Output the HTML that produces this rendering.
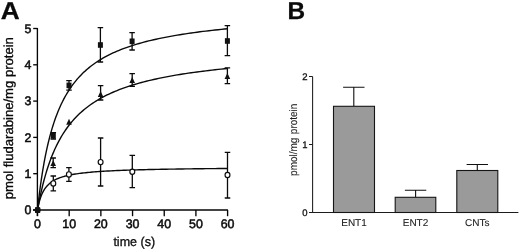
<!DOCTYPE html>
<html><head><meta charset="utf-8"><title>Figure</title>
<style>html,body{margin:0;padding:0;background:#fff;overflow:hidden;}svg{display:block;will-change:transform;filter:blur(0.35px);}text{text-rendering:geometricPrecision;font-family:"Liberation Sans",sans-serif;fill:#0a0a0a;stroke:#0a0a0a;stroke-width:0.3px;}text.t{stroke-width:0.5px;}text.b2{fill:#111;stroke:#111;stroke-width:0.3px;}text.b{fill:#1c1c1c;stroke:#1c1c1c;stroke-width:0.1px;}</style>
</head><body>
<svg width="520" height="250" viewBox="0 0 520 250">
<rect width="520" height="250" fill="#fff"/>
<text transform="translate(0.7,19) scale(1.075,1)" font-size="24.4" font-weight="bold">A</text>
<g stroke="#050505" stroke-width="1.35" fill="none">
<path d="M37.4,28 V216"/>
<path d="M33,210 H227.9"/>
<path d="M33.2,210.00 H37.4"/>
<path d="M33.2,173.70 H37.4"/>
<path d="M33.2,137.40 H37.4"/>
<path d="M33.2,101.10 H37.4"/>
<path d="M33.2,64.80 H37.4"/>
<path d="M33.2,28.50 H37.4"/>
<path d="M37.50,210 V216.2"/>
<path d="M69.18,210 V216.2"/>
<path d="M100.87,210 V216.2"/>
<path d="M132.55,210 V216.2"/>
<path d="M164.23,210 V216.2"/>
<path d="M195.91,210 V216.2"/>
<path d="M227.60,210 V216.2"/>
</g>
<text x="31.3" y="214.30" font-size="12.4" text-anchor="end" class="t">0</text>
<text x="31.3" y="178.00" font-size="12.4" text-anchor="end" class="t">1</text>
<text x="31.3" y="141.70" font-size="12.4" text-anchor="end" class="t">2</text>
<text x="31.3" y="105.40" font-size="12.4" text-anchor="end" class="t">3</text>
<text x="31.3" y="69.10" font-size="12.4" text-anchor="end" class="t">4</text>
<text x="31.3" y="32.80" font-size="12.4" text-anchor="end" class="t">5</text>
<text x="37.50" y="228.4" font-size="12.4" text-anchor="middle" class="t">0</text>
<text x="69.18" y="228.4" font-size="12.4" text-anchor="middle" class="t">10</text>
<text x="100.87" y="228.4" font-size="12.4" text-anchor="middle" class="t">20</text>
<text x="132.55" y="228.4" font-size="12.4" text-anchor="middle" class="t">30</text>
<text x="164.23" y="228.4" font-size="12.4" text-anchor="middle" class="t">40</text>
<text x="195.91" y="228.4" font-size="12.4" text-anchor="middle" class="t">50</text>
<text x="227.60" y="228.4" font-size="12.4" text-anchor="middle" class="t">60</text>
<text x="113.4" y="246" font-size="12.9" textLength="41.7" lengthAdjust="spacingAndGlyphs">time (s)</text>
<text transform="translate(12.9,199.3) rotate(-90)" font-size="13.1" textLength="162.2" lengthAdjust="spacingAndGlyphs">pmol fludarabine/mg protein</text>
<g stroke="#0a0a0a" stroke-width="1.4" fill="none" stroke-linejoin="round">
<path d="M37.50,210.00 L37.51,209.87 L37.55,209.50 L37.62,208.87 L37.71,208.01 L37.84,206.90 L37.98,205.57 L38.16,204.02 L38.36,202.26 L38.59,200.30 L38.84,198.16 L39.12,195.85 L39.43,193.38 L39.77,190.77 L40.13,188.03 L40.52,185.18 L40.94,182.24 L41.38,179.20 L41.85,176.10 L42.35,172.94 L42.87,169.73 L43.42,166.50 L44.00,163.24 L44.60,159.97 L45.23,156.70 L45.89,153.43 L46.57,150.18 L47.29,146.96 L48.02,143.76 L48.79,140.60 L49.58,137.48 L50.40,134.41 L51.25,131.39 L52.12,128.41 L53.02,125.49 L53.94,122.63 L54.90,119.83 L55.88,117.09 L56.88,114.41 L57.92,111.79 L58.98,109.24 L60.07,106.75 L61.18,104.32 L62.32,101.95 L63.49,99.65 L64.68,97.41 L65.91,95.22 L67.15,93.10 L68.43,91.04 L69.73,89.03 L71.06,87.08 L72.42,85.19 L73.80,83.35 L75.21,81.56 L76.64,79.82 L78.11,78.13 L79.60,76.50 L81.11,74.91 L82.66,73.36 L84.23,71.86 L85.83,70.40 L87.45,68.99 L89.10,67.62 L90.78,66.28 L92.48,64.99 L94.22,63.73 L95.98,62.51 L97.76,61.33 L99.57,60.17 L101.41,59.05 L103.28,57.97 L105.17,56.91 L107.09,55.88 L109.04,54.89 L111.01,53.92 L113.01,52.97 L115.04,52.06 L117.09,51.17 L119.17,50.30 L121.28,49.46 L123.41,48.64 L125.58,47.84 L127.76,47.06 L129.98,46.31 L132.22,45.57 L134.49,44.86 L136.78,44.16 L139.11,43.48 L141.46,42.82 L143.83,42.18 L146.23,41.55 L148.66,40.94 L151.12,40.34 L153.60,39.76 L156.11,39.20 L158.65,38.64 L161.22,38.11 L163.81,37.58 L166.42,37.07 L169.07,36.57 L171.74,36.08 L174.44,35.61 L177.16,35.15 L179.92,34.69 L182.69,34.25 L185.50,33.82 L188.33,33.40 L191.19,32.99 L194.08,32.58 L196.99,32.19 L199.93,31.81 L202.90,31.43 L205.89,31.07 L208.91,30.71 L211.96,30.36 L215.03,30.01 L218.13,29.68 L221.26,29.35 L224.42,29.03 L227.60,28.72"/>
<path d="M37.50,210.00 L37.51,209.93 L37.55,209.70 L37.62,209.33 L37.71,208.81 L37.84,208.15 L37.98,207.34 L38.16,206.41 L38.36,205.34 L38.59,204.14 L38.84,202.83 L39.12,201.40 L39.43,199.87 L39.77,198.24 L40.13,196.52 L40.52,194.71 L40.94,192.82 L41.38,190.87 L41.85,188.85 L42.35,186.78 L42.87,184.66 L43.42,182.50 L44.00,180.30 L44.60,178.08 L45.23,175.84 L45.89,173.58 L46.57,171.31 L47.29,169.04 L48.02,166.77 L48.79,164.50 L49.58,162.24 L50.40,160.00 L51.25,157.77 L52.12,155.56 L53.02,153.37 L53.94,151.21 L54.90,149.07 L55.88,146.96 L56.88,144.88 L57.92,142.84 L58.98,140.83 L60.07,138.85 L61.18,136.91 L62.32,135.01 L63.49,133.14 L64.68,131.31 L65.91,129.51 L67.15,127.76 L68.43,126.04 L69.73,124.36 L71.06,122.71 L72.42,121.10 L73.80,119.53 L75.21,118.00 L76.64,116.50 L78.11,115.04 L79.60,113.61 L81.11,112.21 L82.66,110.85 L84.23,109.53 L85.83,108.23 L87.45,106.97 L89.10,105.74 L90.78,104.54 L92.48,103.36 L94.22,102.22 L95.98,101.11 L97.76,100.02 L99.57,98.96 L101.41,97.93 L103.28,96.92 L105.17,95.94 L107.09,94.98 L109.04,94.05 L111.01,93.14 L113.01,92.25 L115.04,91.39 L117.09,90.54 L119.17,89.72 L121.28,88.91 L123.41,88.13 L125.58,87.37 L127.76,86.62 L129.98,85.89 L132.22,85.18 L134.49,84.49 L136.78,83.82 L139.11,83.16 L141.46,82.51 L143.83,81.88 L146.23,81.27 L148.66,80.67 L151.12,80.09 L153.60,79.52 L156.11,78.96 L158.65,78.41 L161.22,77.88 L163.81,77.36 L166.42,76.85 L169.07,76.35 L171.74,75.87 L174.44,75.40 L177.16,74.93 L179.92,74.48 L182.69,74.03 L185.50,73.60 L188.33,73.18 L191.19,72.76 L194.08,72.36 L196.99,71.96 L199.93,71.57 L202.90,71.19 L205.89,70.82 L208.91,70.46 L211.96,70.10 L215.03,69.75 L218.13,69.41 L221.26,69.08 L224.42,68.75 L227.60,68.43"/>
<path d="M37.50,210.00 L37.51,209.92 L37.55,209.70 L37.62,209.32 L37.71,208.81 L37.84,208.17 L37.98,207.42 L38.16,206.56 L38.36,205.61 L38.59,204.60 L38.84,203.52 L39.12,202.40 L39.43,201.24 L39.77,200.07 L40.13,198.90 L40.52,197.72 L40.94,196.55 L41.38,195.41 L41.85,194.28 L42.35,193.19 L42.87,192.12 L43.42,191.09 L44.00,190.10 L44.60,189.14 L45.23,188.22 L45.89,187.34 L46.57,186.50 L47.29,185.69 L48.02,184.92 L48.79,184.19 L49.58,183.49 L50.40,182.82 L51.25,182.19 L52.12,181.58 L53.02,181.01 L53.94,180.46 L54.90,179.94 L55.88,179.45 L56.88,178.97 L57.92,178.52 L58.98,178.10 L60.07,177.69 L61.18,177.30 L62.32,176.93 L63.49,176.58 L64.68,176.25 L65.91,175.92 L67.15,175.62 L68.43,175.33 L69.73,175.05 L71.06,174.78 L72.42,174.53 L73.80,174.28 L75.21,174.05 L76.64,173.83 L78.11,173.62 L79.60,173.41 L81.11,173.22 L82.66,173.03 L84.23,172.85 L85.83,172.68 L87.45,172.51 L89.10,172.35 L90.78,172.20 L92.48,172.05 L94.22,171.91 L95.98,171.77 L97.76,171.64 L99.57,171.52 L101.41,171.40 L103.28,171.28 L105.17,171.17 L107.09,171.06 L109.04,170.95 L111.01,170.85 L113.01,170.75 L115.04,170.66 L117.09,170.57 L119.17,170.48 L121.28,170.40 L123.41,170.32 L125.58,170.24 L127.76,170.16 L129.98,170.08 L132.22,170.01 L134.49,169.94 L136.78,169.88 L139.11,169.81 L141.46,169.75 L143.83,169.69 L146.23,169.63 L148.66,169.57 L151.12,169.51 L153.60,169.46 L156.11,169.41 L158.65,169.35 L161.22,169.30 L163.81,169.26 L166.42,169.21 L169.07,169.16 L171.74,169.12 L174.44,169.08 L177.16,169.03 L179.92,168.99 L182.69,168.95 L185.50,168.91 L188.33,168.88 L191.19,168.84 L194.08,168.80 L196.99,168.77 L199.93,168.73 L202.90,168.70 L205.89,168.67 L208.91,168.64 L211.96,168.61 L215.03,168.58 L218.13,168.55 L221.26,168.52 L224.42,168.49 L227.60,168.46"/>
</g>
<path d="M53.30,132.60 V139.00 M50.55,132.60 H56.05 M50.55,139.00 H56.05" stroke="#0a0a0a" stroke-width="1.3" fill="none"/>
<rect x="50.80" y="133.00" width="5" height="5.6" fill="#111"/>
<path d="M69.00,80.60 V90.20 M66.25,80.60 H71.75 M66.25,90.20 H71.75" stroke="#0a0a0a" stroke-width="1.3" fill="none"/>
<rect x="66.50" y="82.60" width="5" height="5.6" fill="#111"/>
<path d="M100.40,27.60 V62.00 M97.65,27.60 H103.15 M97.65,62.00 H103.15" stroke="#0a0a0a" stroke-width="1.3" fill="none"/>
<rect x="97.90" y="42.20" width="5" height="5.6" fill="#111"/>
<path d="M132.10,32.60 V50.00 M129.35,32.60 H134.85 M129.35,50.00 H134.85" stroke="#0a0a0a" stroke-width="1.3" fill="none"/>
<rect x="129.60" y="38.50" width="5" height="5.6" fill="#111"/>
<path d="M227.40,25.60 V55.60 M224.65,25.60 H230.15 M224.65,55.60 H230.15" stroke="#0a0a0a" stroke-width="1.3" fill="none"/>
<rect x="224.90" y="38.20" width="5" height="5.6" fill="#111"/>
<path d="M53.20,158.00 V167.60 M50.45,158.00 H55.95 M50.45,167.60 H55.95" stroke="#0a0a0a" stroke-width="1.3" fill="none"/>
<path d="M53.20,160.20 L56.00,166.10 L50.40,166.10 Z" fill="#111"/>
<path d="M69.00,118.80 L71.80,124.70 L66.20,124.70 Z" fill="#111"/>
<path d="M100.60,85.60 V100.00 M97.85,85.60 H103.35 M97.85,100.00 H103.35" stroke="#0a0a0a" stroke-width="1.3" fill="none"/>
<path d="M100.60,91.00 L103.40,96.90 L97.80,96.90 Z" fill="#111"/>
<path d="M132.20,73.60 V86.40 M129.45,73.60 H134.95 M129.45,86.40 H134.95" stroke="#0a0a0a" stroke-width="1.3" fill="none"/>
<path d="M132.20,77.00 L135.00,82.90 L129.40,82.90 Z" fill="#111"/>
<path d="M227.40,67.80 V83.60 M224.65,67.80 H230.15 M224.65,83.60 H230.15" stroke="#0a0a0a" stroke-width="1.3" fill="none"/>
<path d="M227.40,73.00 L230.20,78.90 L224.60,78.90 Z" fill="#111"/>
<path d="M53.30,176.00 V190.80 M50.55,176.00 H56.05 M50.55,190.80 H56.05" stroke="#0a0a0a" stroke-width="1.3" fill="none"/>
<ellipse cx="53.30" cy="183.40" rx="2.45" ry="2.65" fill="#fff" stroke="#0a0a0a" stroke-width="1.15"/>
<path d="M68.90,167.60 V181.40 M66.15,167.60 H71.65 M66.15,181.40 H71.65" stroke="#0a0a0a" stroke-width="1.3" fill="none"/>
<ellipse cx="68.90" cy="174.40" rx="2.45" ry="2.65" fill="#fff" stroke="#0a0a0a" stroke-width="1.15"/>
<path d="M100.60,138.00 V186.00 M97.85,138.00 H103.35 M97.85,186.00 H103.35" stroke="#0a0a0a" stroke-width="1.3" fill="none"/>
<ellipse cx="100.60" cy="162.10" rx="2.45" ry="2.65" fill="#fff" stroke="#0a0a0a" stroke-width="1.15"/>
<path d="M132.30,155.40 V187.60 M129.55,155.40 H135.05 M129.55,187.60 H135.05" stroke="#0a0a0a" stroke-width="1.3" fill="none"/>
<ellipse cx="132.30" cy="171.70" rx="2.45" ry="2.65" fill="#fff" stroke="#0a0a0a" stroke-width="1.15"/>
<path d="M227.50,152.40 V198.00 M224.75,152.40 H230.25 M224.75,198.00 H230.25" stroke="#0a0a0a" stroke-width="1.3" fill="none"/>
<ellipse cx="227.50" cy="175.00" rx="2.45" ry="2.65" fill="#fff" stroke="#0a0a0a" stroke-width="1.15"/>
<rect x="35" y="207.3" width="5.2" height="5.6" fill="#111"/>
<ellipse cx="37.6" cy="210" rx="3" ry="3.1" fill="#111"/>
<text x="287.5" y="19" font-size="24.4" font-weight="bold">B</text>
<g stroke="#1c1c1c" stroke-width="1.05" fill="none">
<path d="M312.6,76.4 V212.5"/>
<path d="M309,212.5 H518.4"/>
<path d="M309,144.50 H312.6"/>
<path d="M309,76.50 H312.6"/>
</g>
<text x="307.6" y="215.80" font-size="9.5" text-anchor="end" class="b2">0</text>
<text x="307.6" y="147.80" font-size="9.5" text-anchor="end" class="b2">1</text>
<text x="307.6" y="79.80" font-size="9.5" text-anchor="end" class="b2">2</text>
<path d="M353.80,87.20 V106.30 M343.10,87.20 H364.50" stroke="#111" stroke-width="1.1" fill="none"/>
<rect x="333.50" y="106.30" width="41.00" height="106.20" fill="#9a9a9a" stroke="#151515" stroke-width="1.1"/>
<text x="354.00" y="225.8" font-size="10" text-anchor="middle" class="b">ENT1</text>
<path d="M415.60,190.20 V197.30 M404.90,190.20 H426.30" stroke="#111" stroke-width="1.1" fill="none"/>
<rect x="395.20" y="197.30" width="40.60" height="15.20" fill="#9a9a9a" stroke="#151515" stroke-width="1.1"/>
<text x="415.50" y="225.8" font-size="10" text-anchor="middle" class="b">ENT2</text>
<path d="M477.30,164.50 V170.50 M466.60,164.50 H488.00" stroke="#111" stroke-width="1.1" fill="none"/>
<rect x="456.80" y="170.50" width="41.00" height="42.00" fill="#9a9a9a" stroke="#151515" stroke-width="1.1"/>
<text x="477.30" y="225.8" font-size="10" text-anchor="middle" class="b">CNTs</text>
<text transform="translate(296.6,175.9) rotate(-90)" font-size="10.8" textLength="72.2" lengthAdjust="spacingAndGlyphs" class="b" word-spacing="0.9">pmol/mg protein</text>
</svg></body></html>
